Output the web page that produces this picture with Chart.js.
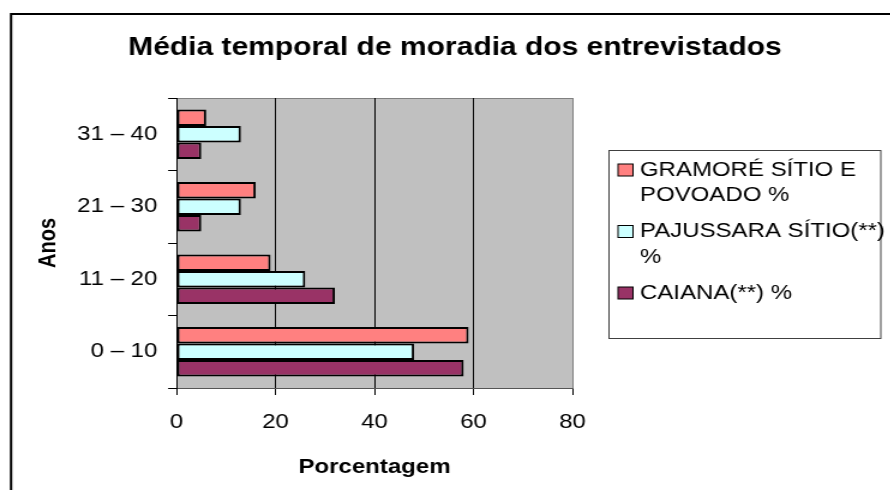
<!DOCTYPE html>
<html><head><meta charset="utf-8">
<script src="https://cdn.jsdelivr.net/npm/chart.js@4/dist/chart.umd.min.js"></script>
<style>
html,body{margin:0;padding:0;background:#fff;overflow:hidden;width:890px;height:490px}
#wrap{position:absolute;left:0;top:0;width:749px;height:490px;transform:scaleX(1.2);transform-origin:0 0}
</style></head><body>
<div id="wrap"><canvas id="c"></canvas></div>
<script>
const categories = ['31 – 40', '21 – 30', '11 – 20', '0 – 10'];
const seriesNames = [['GRAMORÉ SÍTIO E', 'POVOADO %'], ['PAJUSSARA SÍTIO(**)', '%'], ['CAIANA(**) %']];
const gramore = [6, 16, 19, 59];
const pajussara = [13, 13, 26, 48];
const caiana = [5, 5, 32, 58];
const xTicks = [0, 20, 40, 60, 80];
const seriesColors = ['#FF8080', '#CCFFFF', '#993366'];
const chartTitle = 'Média temporal de moradia dos entrevistados';
const xTitle = 'Porcentagem';
const yTitle = 'Anos';

const F = '"Liberation Sans", Arial, sans-serif';
const W = 749;
const seriesValues = [gramore, pajussara, caiana];

const framePlugin = {
  id: 'frame',
  beforeDraw(chart) {
    const {ctx, chartArea: a} = chart;
    ctx.save();
    ctx.fillStyle = '#fff';
    ctx.fillRect(0, 0, chart.width, chart.height);
    ctx.strokeStyle = '#000';
    ctx.lineWidth = 2;
    ctx.strokeRect(9.2, 14, chart.width + 40, chart.height + 40);
    ctx.fillStyle = '#C0C0C0';
    ctx.fillRect(a.left, a.top, a.right - a.left, a.bottom - a.top);
    ctx.strokeStyle = '#808080';
    ctx.lineWidth = 1;
    ctx.beginPath();
    ctx.moveTo(a.left, a.top + 0.5);
    ctx.lineTo(a.right, a.top + 0.5);
    ctx.stroke();
    ctx.restore();
  },
  afterDraw(chart) {
    const ctx = chart.ctx;
    const L = {left: 507.5, top: 150, right: 734, bottom: 338, mx: 515, mw: 12.5, mh: 12, tx: 533.3, y0: 170, lh: 25.7, gap: 10.1};
    ctx.save();
    ctx.strokeStyle = '#404040';
    ctx.lineWidth = 1;
    ctx.strokeRect(L.left, L.top + 0.5, L.right - L.left, L.bottom - L.top);
    ctx.font = '20px ' + F;
    ctx.textBaseline = 'middle';
    ctx.textAlign = 'left';
    let y = L.y0;
    chart.data.datasets.forEach((ds, i) => {
      ctx.fillStyle = ds.backgroundColor;
      ctx.fillRect(L.mx, y - L.mh / 2, L.mw, L.mh);
      ctx.strokeStyle = '#000';
      ctx.lineWidth = 1;
      ctx.strokeRect(L.mx, y - L.mh / 2, L.mw, L.mh);
      ctx.fillStyle = '#000';
      const lines = seriesNames[i];
      lines.forEach((t, k) => ctx.fillText(t, L.tx, y + k * L.lh));
      y += lines.length * L.lh + L.gap;
    });
    ctx.restore();
  }
};

new Chart(document.getElementById('c'), {
  type: 'bar',
  data: {
    labels: categories,
    datasets: seriesValues.map((vals, i) => ({
      label: seriesNames[i].join(' '),
      data: vals,
      backgroundColor: seriesColors[i],
      borderColor: '#000',
      borderWidth: 2,
      borderSkipped: false,
      categoryPercentage: 0.68,
      barPercentage: 1.0
    }))
  },
  options: {
    indexAxis: 'y',
    responsive: true,
    maintainAspectRatio: false,
    animation: false,
    devicePixelRatio: 1,
    layout: {padding: {top: 20, left: 9.2, right: 0, bottom: 0}},
    plugins: {
      legend: {display: false},
      tooltip: {enabled: false},
      title: {
        display: true, text: chartTitle, color: '#000',
        font: {family: F, size: 25, weight: 'bold', lineHeight: 1.2},
        padding: {top: 13, bottom: 35}
      }
    },
    scales: {
      x: {
        type: 'linear', min: 0, max: 80, position: 'bottom',
        afterBuildTicks: s => { s.ticks = xTicks.map(v => ({value: v})); },
        grid: {
          color: c => (c.tick && c.tick.value === 80) ? '#808080' : '#000',
          tickColor: '#000', tickLength: 7, lineWidth: 1
        },
        border: {color: '#555', width: 1},
        ticks: {font: {family: F, size: 20}, color: '#000', padding: 15, maxRotation: 0},
        title: {display: true, text: xTitle, color: '#000', font: {family: F, size: 20, weight: 'bold'}, padding: {top: 0, bottom: 10.5}},
        afterFit: s => { s.height = 102; }
      },
      y: {
        type: 'category', position: 'left', offset: true,
        grid: {offset: true, drawOnChartArea: false, tickLength: 7, color: '#000'},
        border: {color: '#000', width: 1},
        ticks: {font: {family: F, size: 20}, color: '#000', padding: 9},
        title: {display: true, text: yTitle, color: '#000', font: {family: F, size: 20, weight: 'bold'}, padding: {top: 19.1, bottom: 0}},
        afterFit: s => { s.width = 137.9; }
      },
      pad: {
        type: 'linear', position: 'right', display: true,
        grid: {display: false}, border: {display: false}, ticks: {display: false},
        afterFit: s => { s.width = W - 477.1; }
      }
    }
  },
  plugins: [framePlugin]
});
</script>
</body></html>
